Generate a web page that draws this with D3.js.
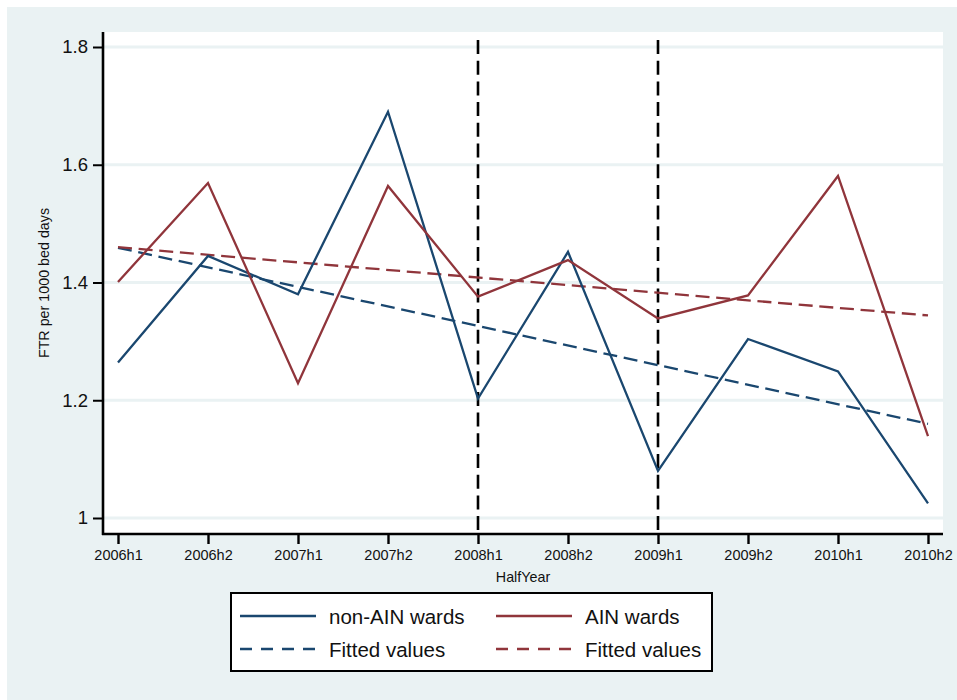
<!DOCTYPE html>
<html>
<head>
<meta charset="utf-8">
<script src="https://cdn.jsdelivr.net/npm/d3@7"></script>
<style>
  html, body { margin: 0; padding: 0; background: #ffffff; }
  svg { display: block; }
  text { font-family: "Liberation Sans", Arial, Helvetica, sans-serif; fill: #111; }
</style>
</head>
<body>
<svg id="chart" width="957" height="700"></svg>
<script>
// Half-year periods on the x axis
const periods = ["2006h1", "2006h2", "2007h1", "2007h2", "2008h1",
                 "2008h2", "2009h1", "2009h2", "2010h1", "2010h2"];

// Failure-to-rescue rate per 1000 bed days
const nonAinWards = [1.264, 1.445, 1.380, 1.690, 1.203, 1.452, 1.080, 1.304, 1.249, 1.025];
const ainWards    = [1.401, 1.569, 1.229, 1.564, 1.376, 1.438, 1.339, 1.378, 1.581, 1.139];

// Linear fit lines, first and last period
const fitPeriods  = ["2006h1", "2010h2"];
const nonAinFit   = [1.459, 1.160];
const ainFit      = [1.460, 1.344];

// Intervention markers
const markerPeriods = ["2008h1", "2009h1"];

// Y axis ticks
const yTicks = [1, 1.2, 1.4, 1.6, 1.8];

const navy = "#1a476f";
const maroon = "#90353b";
const bg = "#eaf2f3";

const svg = d3.select("#chart");

// Outer graph region
svg.append("rect").attr("x", 7).attr("y", 7).attr("width", 950).attr("height", 693).attr("fill", bg);

const plot = { left: 103, top: 32, right: 943, bottom: 534 };
const W = plot.right - plot.left, H = plot.bottom - plot.top;

const g = svg.append("g").attr("transform", `translate(${plot.left},${plot.top})`);
g.append("rect").attr("width", W).attr("height", H).attr("fill", "#ffffff");

const x = d3.scalePoint().domain(periods).range([15, W - 15]);
const y = d3.scaleLinear().domain([1, 1.8]).range([H - 16, 15]);

// Horizontal grid
g.selectAll("line.grid").data(yTicks).join("line")
  .attr("class", "grid")
  .attr("x1", 0).attr("x2", W)
  .attr("y1", d => y(d)).attr("y2", d => y(d))
  .attr("stroke", bg).attr("stroke-width", 3);

// Vertical dashed markers
g.selectAll("line.marker").data(markerPeriods).join("line")
  .attr("class", "marker")
  .attr("x1", d => x(d)).attr("x2", d => x(d))
  .attr("y1", 8).attr("y2", H)
  .attr("stroke", "#000").attr("stroke-width", 2.6)
  .attr("stroke-dasharray", "14,6.7");

const line = d3.line().x(d => x(d[0])).y(d => y(d[1]));

const series = [
  { periods: fitPeriods, values: nonAinFit, color: navy, dash: "14,6.7" },
  { periods: fitPeriods, values: ainFit, color: maroon, dash: "14,6.7" },
  { periods: periods, values: nonAinWards, color: navy, dash: null },
  { periods: periods, values: ainWards, color: maroon, dash: null }
];

series.forEach(s => {
  g.append("path")
    .datum(s.periods.map((p, i) => [p, s.values[i]]))
    .attr("d", line)
    .attr("fill", "none")
    .attr("stroke", s.color)
    .attr("stroke-width", 2.3)
    .attr("stroke-linejoin", "miter")
    .attr("stroke-dasharray", s.dash);
});

// Axes
const yAxis = d3.axisLeft(y).tickValues(yTicks).tickSize(10).tickPadding(5)
  .tickFormat(d => d3.format("")(d));
const yG = g.append("g").call(yAxis);
yG.select(".domain").remove();
yG.selectAll(".tick line").attr("stroke", "#000").attr("stroke-width", 2);
yG.selectAll(".tick text").attr("font-size", 18.5).attr("fill", "#111")
  .style("font-family", '"Liberation Sans", Arial, sans-serif');

const xAxis = d3.axisBottom(x).tickSize(10).tickPadding(6);
const xG = g.append("g").attr("transform", `translate(0,${H})`).call(xAxis);
xG.select(".domain").remove();
xG.selectAll(".tick line").attr("stroke", "#000").attr("stroke-width", 2.4);
xG.selectAll(".tick text").attr("font-size", 14.5).attr("fill", "#111")
  .style("font-family", '"Liberation Sans", Arial, sans-serif');

// Axis lines
g.append("line").attr("x1", 0).attr("x2", 0).attr("y1", 0).attr("y2", H + 1)
  .attr("stroke", "#000").attr("stroke-width", 2.6);
g.append("line").attr("x1", -1).attr("x2", W).attr("y1", H).attr("y2", H)
  .attr("stroke", "#000").attr("stroke-width", 2.6);

// Axis titles
svg.append("text").attr("x", plot.left + W / 2).attr("y", 582)
  .attr("text-anchor", "middle").attr("font-size", 14.3).text("HalfYear");
svg.append("text")
  .attr("transform", `translate(49,${plot.top + H / 2}) rotate(-90)`)
  .attr("text-anchor", "middle").attr("font-size", 14.3).text("FTR per 1000 bed days");

// Legend
const legendItems = [
  { label: "non-AIN wards", color: navy, dash: null, col: 0, row: 0 },
  { label: "AIN wards", color: maroon, dash: null, col: 1, row: 0 },
  { label: "Fitted values", color: navy, dash: "12,9", col: 0, row: 1 },
  { label: "Fitted values", color: maroon, dash: "12,9", col: 1, row: 1 }
];
const lg = svg.append("g").attr("transform", "translate(231,593)");
lg.append("rect").attr("width", 481).attr("height", 78)
  .attr("fill", "#ffffff").attr("stroke", "#000").attr("stroke-width", 2);
const colX = [9, 265], rowY = [23, 56];
legendItems.forEach(it => {
  const ox = colX[it.col], oy = rowY[it.row];
  lg.append("line").attr("x1", ox).attr("x2", ox + 76).attr("y1", oy).attr("y2", oy)
    .attr("stroke", it.color).attr("stroke-width", 2.6)
    .attr("stroke-dasharray", it.dash);
  lg.append("text").attr("x", ox + 89).attr("y", oy + 7.5)
    .attr("font-size", 20.5).text(it.label);
});
</script>
</body>
</html>
